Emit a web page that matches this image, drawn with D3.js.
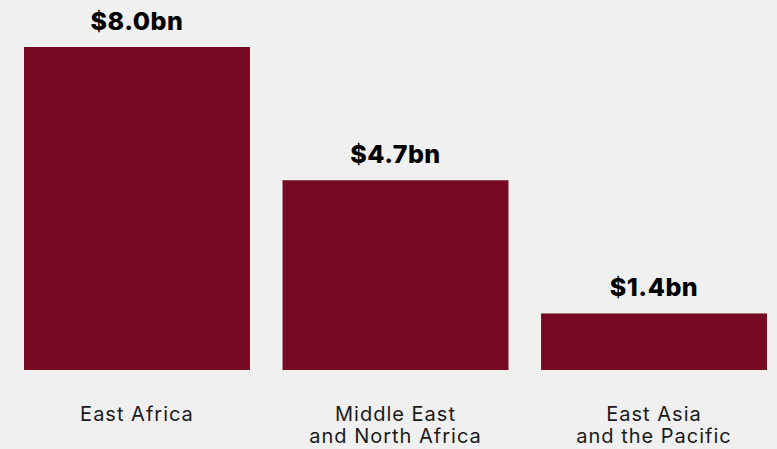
<!DOCTYPE html>
<html>
<head>
<meta charset="utf-8">
<script src="https://cdn.jsdelivr.net/npm/d3@7"></script>
<style>
  html, body { margin: 0; padding: 0; background: #f0f0f0; }
  svg { display: block; }
  text { font-family: "Inter", "Noto Sans", sans-serif; }
</style>
</head>
<body>
<svg id="chart" width="777" height="449"></svg>
<script>
// Regional totals, billions of US dollars
const regions = [
  ["East Africa"],
  ["Middle East", "and North Africa"],
  ["East Asia", "and the Pacific"]
];
const values = [8.0, 4.7, 1.4];
const valueLabels = ["$8.0bn", "$4.7bn", "$1.4bn"];

const W = 777, H = 449;
const margin = { left: 24, right: 10, top: 47, baseline: 370 };
const svg = d3.select("#chart");

const keys = regions.map(r => r.join(" "));
const x = d3.scaleBand()
  .domain(keys)
  .range([margin.left, W - margin.right])
  .paddingInner(0.126)
  .paddingOuter(0);

const y = d3.scaleLinear()
  .domain([0, 8.0])
  .range([margin.baseline, margin.top]);

const data = keys.map((k, i) => ({ key: k, lines: regions[i], value: values[i], label: valueLabels[i] }));

svg.append("g")
  .selectAll("rect")
  .data(data)
  .join("rect")
  .attr("x", d => x(d.key))
  .attr("y", d => y(d.value))
  .attr("width", x.bandwidth())
  .attr("height", d => y(0) - y(d.value))
  .attr("fill", "#760a22");

svg.append("g")
  .selectAll("text")
  .data(data)
  .join("text")
  .attr("x", d => x(d.key) + x.bandwidth() / 2)
  .attr("y", d => y(d.value) - 17)
  .attr("text-anchor", "middle")
  .attr("font-size", 25)
  .attr("font-weight", 800)
  .attr("letter-spacing", 0.5)
  .attr("fill", "#000")
  .text(d => d.label);

const cats = svg.append("g")
  .selectAll("text")
  .data(data)
  .join("text")
  .attr("x", d => x(d.key) + x.bandwidth() / 2)
  .attr("y", 421)
  .attr("text-anchor", "middle")
  .attr("font-size", 20)
  .attr("letter-spacing", 1)
  .attr("fill", "#1a1a1a");

cats.selectAll("tspan")
  .data(d => d.lines.map(l => ({ l, cx: x(d.key) + x.bandwidth() / 2 })))
  .join("tspan")
  .attr("x", t => t.cx)
  .attr("dy", (t, i) => i === 0 ? 0 : 22)
  .text(t => t.l);
</script>
</body>
</html>
